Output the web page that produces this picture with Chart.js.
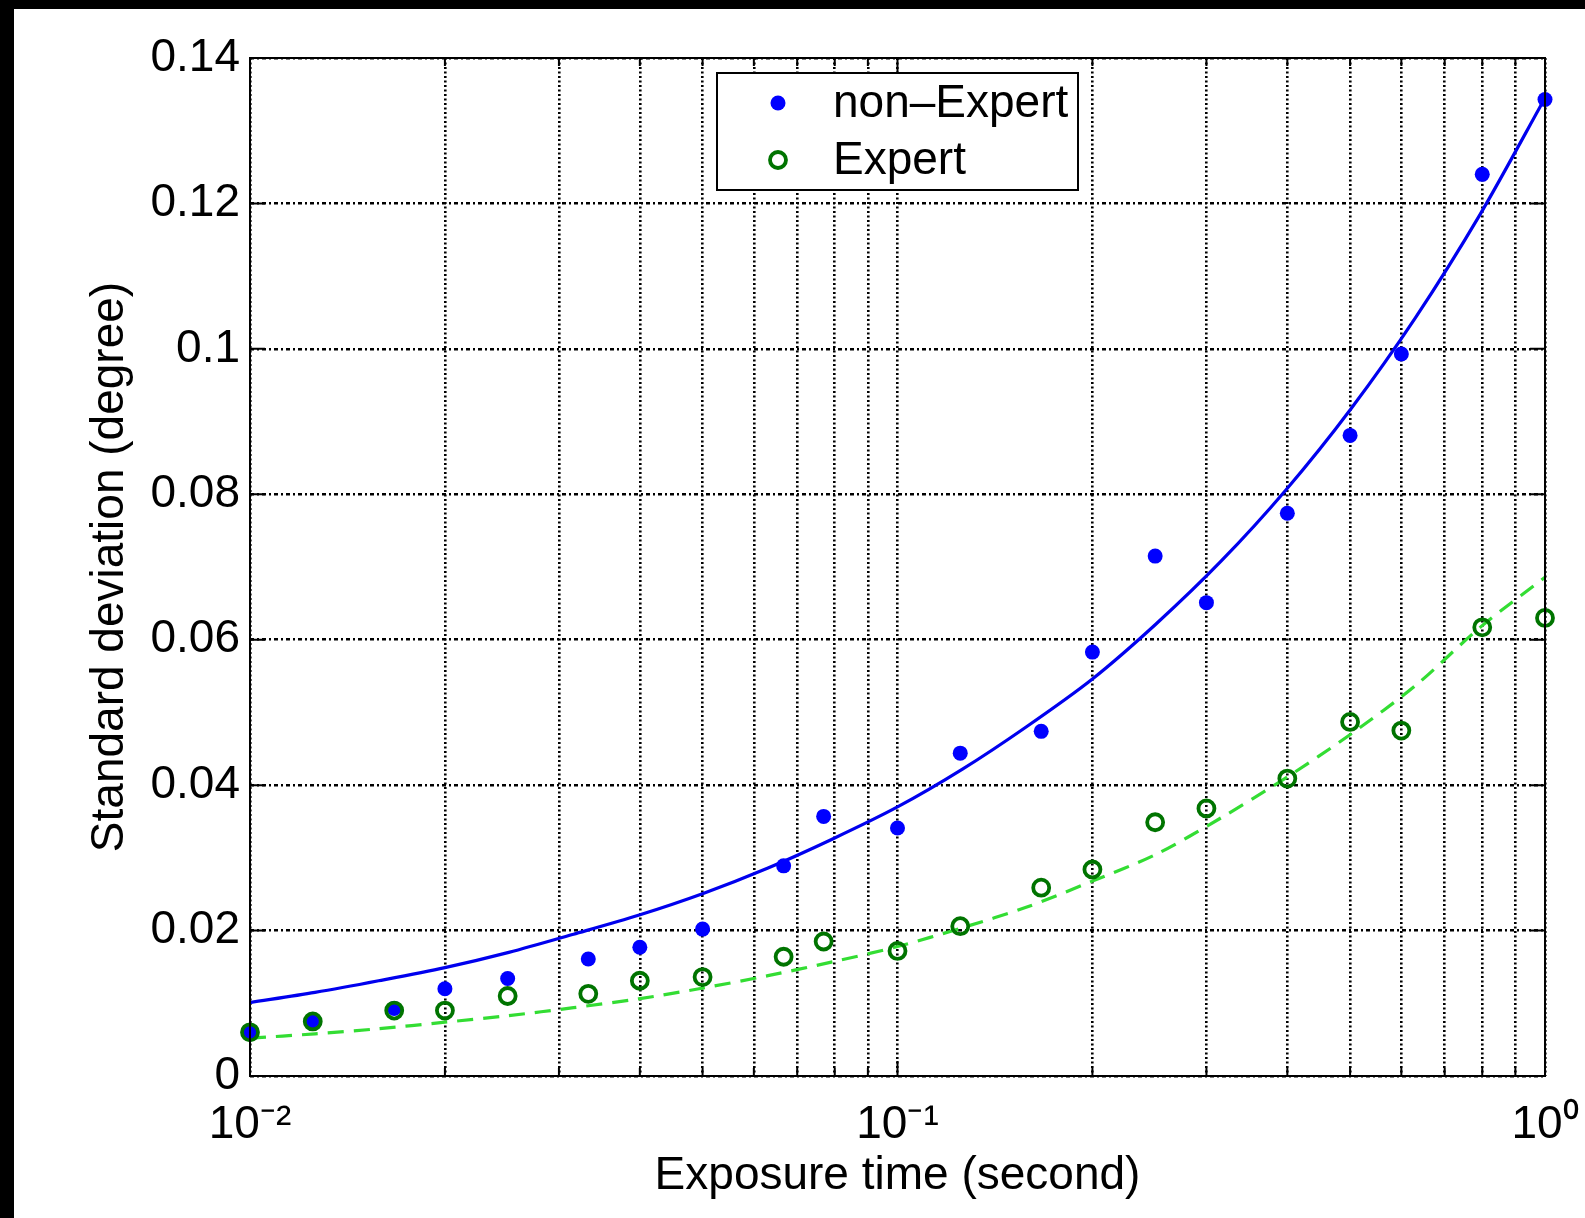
<!DOCTYPE html>
<html>
<head>
<meta charset="utf-8">
<script src="https://cdn.jsdelivr.net/npm/chart.js@4.4.1/dist/chart.umd.min.js"></script>
<style>
  html, body { margin: 0; padding: 0; background: #000; }
  #wrap { position: absolute; left: 14px; top: 9px; width: 1571px; height: 1209px; background: #fff; }
</style>
</head>
<body>
<div id="wrap"><canvas id="chart"></canvas></div>
<script>
// ── data ─────────────────────────────────────────────
// exposure times (s), roughly the usual shutter speeds
const exposure = [0.01, 0.0125, 0.0167, 0.02, 0.025, 0.0333, 0.04, 0.05, 0.0667, 0.0769, 0.1,
                  0.125, 0.1667, 0.2, 0.25, 0.3, 0.4, 0.5, 0.6, 0.8, 1.0];
const nonExpert = [0.0060, 0.0075, 0.0093, 0.0120, 0.0134, 0.0161, 0.0177, 0.0202, 0.0289, 0.0357, 0.0341,
                   0.0444, 0.0474, 0.0583, 0.0715, 0.0651, 0.0774, 0.0881, 0.0993, 0.1240, 0.1343];
const expert = [0.0060, 0.0075, 0.0090, 0.0090, 0.0110, 0.0113, 0.0131, 0.0136, 0.0164, 0.0185, 0.0172,
                0.0206, 0.0259, 0.0284, 0.0349, 0.0368, 0.0409, 0.0487, 0.0475, 0.0617, 0.0630];

// fitted curves at even steps along the log axis
const fitX = [0.01, 0.0126, 0.0158, 0.02, 0.0251, 0.0316, 0.0398, 0.0501, 0.0631, 0.0794, 0.1,
              0.126, 0.158, 0.2, 0.251, 0.316, 0.398, 0.501, 0.631, 0.794, 1.0];
const fitNonExpert = [0.0101, 0.0115, 0.0131, 0.0149, 0.0170, 0.0195, 0.0221, 0.0251, 0.0286, 0.0326, 0.0370,
                      0.0422, 0.0480, 0.0546, 0.0622, 0.0708, 0.0806, 0.0917, 0.1043, 0.1185, 0.1345];
const fitExpert = [0.0052, 0.0058, 0.0065, 0.0074, 0.0083, 0.0094, 0.0106, 0.0121, 0.0138, 0.0157, 0.0178,
                   0.0204, 0.0232, 0.0268, 0.0305, 0.0355, 0.0410, 0.0470, 0.0537, 0.0617, 0.0686];

const xTicks = [0.01, 0.02, 0.03, 0.04, 0.05, 0.06, 0.07, 0.08, 0.09,
                0.1, 0.2, 0.3, 0.4, 0.5, 0.6, 0.7, 0.8, 0.9, 1];
const xTickLabels = ['10\u207B\u00B2', '', '', '', '', '', '', '', '',
                     '10\u207B\u00B9', '', '', '', '', '', '', '', '', '10\u2070'];
const yTicks = [0, 0.02, 0.04, 0.06, 0.08, 0.1, 0.12, 0.14];
const yTickLabels = ['0', '0.02', '0.04', '0.06', '0.08', '0.1', '0.12', '0.14'];

const FONT = 'Liberation Sans, Arial, Helvetica, sans-serif';

const pts = (xs, ys) => xs.map((v, i) => ({ x: v, y: ys[i] }));

// ── box, inward ticks and legend, MATLAB style ───────
const framePlugin = {
  id: 'frame',
  afterDraw(chart) {
    const { ctx, chartArea: a, scales: { x, y } } = chart;
    ctx.save();
    ctx.strokeStyle = '#000';
    ctx.lineWidth = 2;
    ctx.setLineDash([]);
    ctx.strokeRect(a.left, a.top, a.right - a.left, a.bottom - a.top);

    ctx.beginPath();
    xTicks.forEach((v, i) => {
      const px = x.getPixelForValue(v);
      const len = xTickLabels[i] ? 15 : 8;
      ctx.moveTo(px, a.bottom); ctx.lineTo(px, a.bottom - len);
      ctx.moveTo(px, a.top); ctx.lineTo(px, a.top + len);
    });
    yTicks.forEach(v => {
      const py = y.getPixelForValue(v);
      ctx.moveTo(a.left, py); ctx.lineTo(a.left + 15, py);
      ctx.moveTo(a.right, py); ctx.lineTo(a.right - 15, py);
    });
    ctx.stroke();

    // legend
    const bx = a.left + 467, by = a.top + 15, bw = 361, bh = 117;
    ctx.fillStyle = '#fff';
    ctx.fillRect(bx, by, bw, bh);
    ctx.lineWidth = 2;
    ctx.strokeRect(bx, by, bw, bh);

    const items = chart.data.datasets.filter(d => d.legendRow !== undefined)
      .sort((p, q) => p.legendRow - q.legendRow);
    items.forEach((d, i) => {
      const cy = by + 30 + i * 57;
      const cx = bx + 61;
      ctx.beginPath();
      ctx.arc(cx, cy, d.pointRadius, 0, Math.PI * 2);
      if (d.pointBackgroundColor !== 'transparent') {
        ctx.fillStyle = d.pointBackgroundColor;
        ctx.fill();
      } else {
        ctx.lineWidth = d.pointBorderWidth;
        ctx.strokeStyle = d.pointBorderColor;
        ctx.stroke();
      }
      ctx.fillStyle = '#000';
      ctx.font = '46px ' + FONT;
      ctx.textBaseline = 'middle';
      ctx.textAlign = 'left';
      ctx.fillText(d.label, bx + 116, cy + 1);
    });
    ctx.restore();
  }
};

new Chart(document.getElementById('chart'), {
  type: 'scatter',
  data: {
    datasets: [
      {
        label: 'Expert',
        legendRow: 1,
        data: pts(exposure, expert),
        pointStyle: 'circle',
        pointRadius: 8,
        pointBorderWidth: 3.8,
        pointBorderColor: '#007400',
        pointBackgroundColor: 'transparent',
        showLine: false,
        clip: false,
        order: 0
      },
      {
        label: 'non\u2013Expert',
        legendRow: 0,
        data: pts(exposure, nonExpert),
        pointStyle: 'circle',
        pointRadius: 7.5,
        pointBorderWidth: 0,
        pointBackgroundColor: '#0000ff',
        pointBorderColor: '#0000ff',
        showLine: false,
        clip: false,
        order: 1
      },
      {
        label: 'non-Expert fit',
        data: pts(fitX, fitNonExpert),
        showLine: true,
        borderColor: '#0000ee',
        borderWidth: 3.2,
        pointRadius: 0,
        tension: 0.3,
        order: 2
      },
      {
        label: 'Expert fit',
        data: pts(fitX, fitExpert),
        showLine: true,
        borderColor: '#33dd33',
        borderWidth: 3.2,
        borderDash: [16, 10],
        pointRadius: 0,
        tension: 0.3,
        order: 3
      }
    ]
  },
  options: {
    responsive: true,
    maintainAspectRatio: false,
    animation: false,
    events: [],
    layout: { padding: { left: 0, top: 49, right: 40, bottom: 0 } },
    plugins: {
      legend: { display: false },
      tooltip: { enabled: false }
    },
    scales: {
      x: {
        type: 'logarithmic',
        min: 0.01,
        max: 1,
        afterBuildTicks: s => { s.ticks = xTicks.map(v => ({ value: v })); },
        afterFit: s => { s.height = 142; s.paddingLeft = 0; s.paddingRight = 0; },
        ticks: {
          autoSkip: false,
          maxRotation: 0,
          padding: 22,
          color: '#000',
          font: { family: FONT, size: 46 },
          callback: (v, i) => xTickLabels[i]
        },
        grid: { color: '#000', lineWidth: 2.6, drawTicks: false },
        border: { display: false, dash: [2, 2.5] },
        title: {
          display: true,
          text: 'Exposure time (second)',
          color: '#000',
          font: { family: FONT, size: 46 },
          padding: { top: 0, bottom: 14 }
        }
      },
      y: {
        min: 0,
        max: 0.14,
        afterBuildTicks: s => { s.ticks = yTicks.map(v => ({ value: v })); },
        afterFit: s => { s.width = 236; s.paddingTop = 0; s.paddingBottom = 0; },
        ticks: {
          padding: 10,
          color: '#000',
          font: { family: FONT, size: 46 },
          callback: (v, i) => yTickLabels[i]
        },
        grid: { color: '#000', lineWidth: 2.6, drawTicks: false },
        border: { display: false, dash: [4, 3, 2, 3] },
        title: {
          display: true,
          text: 'Standard deviation (degree)',
          color: '#000',
          font: { family: FONT, size: 46 },
          padding: { top: 69, bottom: 0 }
        }
      }
    }
  },
  plugins: [framePlugin]
});
</script>
</body>
</html>
